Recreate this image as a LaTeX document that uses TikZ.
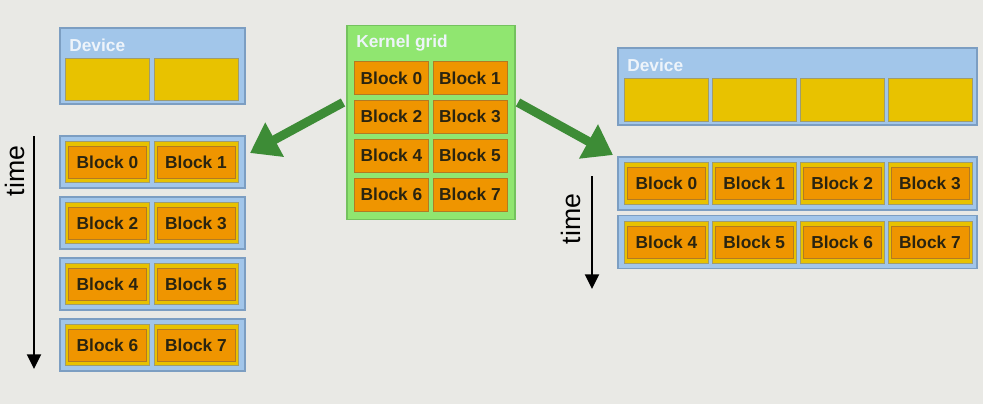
\documentclass[tikz,border=0pt]{standalone}
\usepackage{fontspec}
\setmainfont{Liberation Sans}
\usetikzlibrary{arrows.meta}
\definecolor{bgcol}{HTML}{E9E9E5}
\definecolor{panelfill}{HTML}{A2C6EA}
\definecolor{paneldraw}{HTML}{7C9EC2}
\definecolor{slotfill}{HTML}{E8C200}
\definecolor{slotdraw}{HTML}{9E9C70}
\definecolor{blkfill}{HTML}{EF9500}
\definecolor{blkdraw}{HTML}{B27A22}
\definecolor{gridfill}{HTML}{90E670}
\definecolor{griddraw}{HTML}{74C25E}
\definecolor{arrowgreen}{HTML}{3D8C36}
\definecolor{blktext}{HTML}{2A2410}
\definecolor{titletext}{HTML}{EEF4FA}
\tikzset{
	basic/.style = {inner sep=0pt, outer sep=0pt, rectangle},
	panel/.style = {basic, fill=panelfill, draw=paneldraw, line width=0.8pt},
	gridbox/.style = {basic, fill=gridfill, draw=griddraw, line width=0.8pt, minimum width=126pt, minimum height=145.5pt},
	slot/.style = {basic, fill=slotfill, draw=slotdraw, line width=0.6pt, minimum width=63pt},
	blk/.style = {basic, fill=blkfill, draw=blkdraw, line width=0.6pt, text=blktext,
		font=\fontsize{13}{15}\selectfont\bfseries, minimum width=58.5pt, minimum height=24pt},
	kblk/.style = {blk, minimum width=55.5pt, minimum height=24.75pt},
	title/.style = {anchor=west, inner sep=0pt, text=titletext, font=\fontsize{13}{15}\selectfont\bfseries},
	timelabel/.style = {rotate=90, inner sep=0pt, font=\fontsize{20}{22}\selectfont},
	timearrow/.style = {-{Triangle[width=10.5pt,length=11pt]}, line width=1.5pt, black},
	bigarrow/.style = {-{Triangle[width=28pt,length=21pt]}, line width=6.75pt, arrowgreen}
}
\begin{document}
\begin{tikzpicture}[x=0.75pt, y=-0.75pt]
	% background, fixes the page size
	\fill[bgcol] (0,0) rectangle (983,404);

	% left device, two slots
	\node[panel, minimum width=138.75pt, minimum height=57pt] (ldev) at (152.5,66) {};
	\node[title] (ldevlabel) at (69,45) {Device};
	\foreach \c/\x in {0/107.5,1/196}
		\node[slot, minimum height=31.5pt] (lslot\c) at (\x,79) {};

	% kernel grid with eight blocks
	\node[gridbox] (kgrid) at (431,122.5) {};
	\node[title] (kgridlabel) at (356,43) {Kernel grid};
	\foreach \r in {0,...,3}
		\foreach \c/\x in {0/391.5,1/470}{
			\pgfmathtruncatemacro{\b}{2*\r+\c}
			\node[kblk] (kblk\b) at (\x,78+38.8*\r) {Block \b};
		}

	% left side: one row of two blocks per time step
	\foreach \r in {0,...,3}{
		\node[panel, minimum width=138.75pt, minimum height=39pt] (lrow\r) at (152.5,162+61*\r) {};
		\foreach \c/\x in {0/107.5,1/196}{
			\pgfmathtruncatemacro{\b}{2*\r+\c}
			\node[slot, minimum height=31pt] (lcell\b) at (\x,162+61*\r) {};
			\node[blk] (lblk\b) at (lcell\b) {Block \b};
		}
	}

	% right device, four slots
	\node[panel, minimum width=269.25pt, minimum height=57.75pt] (rdev) at (797.5,86.5) {};
	\node[title] (rdevlabel) at (627,65) {Device};
	\foreach \c in {0,...,3}
		\node[slot, minimum height=32.25pt] (rslot\c) at (666.5+87.8*\c,99.5) {};

	% right side: one row of four blocks per time step
	\foreach \r in {0,1}{
		\node[panel, minimum width=269.25pt, minimum height=39.75pt] (rrow\r) at (797.5,183.5+58.5*\r) {};
		\foreach \c in {0,...,3}{
			\pgfmathtruncatemacro{\b}{4*\r+\c}
			\node[slot, minimum height=31.5pt] (rcell\b) at (666.5+87.8*\c,183.5+58.5*\r) {};
			\node[blk] (rblk\b) at (rcell\b) {Block \b};
		}
	}

	% time axes
	\coordinate (ltop) at (34,136);
	\coordinate (lbot) at (34,369);
	\draw[timearrow] (ltop) -- (lbot);
	\node[timelabel] (ltime) at (15,171) {time};
	\coordinate (rtop) at (592,176);
	\coordinate (rbot) at (592,289);
	\draw[timearrow] (rtop) -- (rbot);
	\node[timelabel] (rtime) at (571,219) {time};

	% green arrows from the grid to both devices
	\draw[bigarrow] ([shift={(-4,-20)}]kgrid.west) -- ([shift={(5,-9)}]lrow0.east);
	\draw[bigarrow] ([shift={(3,-20)}]kgrid.east) -- ([shift={(-5,-28.5)}]rrow0.west);
\end{tikzpicture}
\end{document}
